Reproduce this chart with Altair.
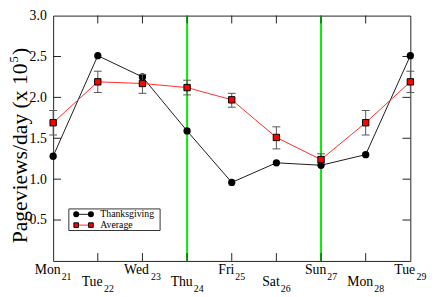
import altair as alt
import pandas as pd

# ---------------- data ----------------
days = ["Mon", "Tue", "Wed", "Thu", "Fri", "Sat", "Sun", "Mon", "Tue"]
dates = ["21", "22", "23", "24", "25", "26", "27", "28", "29"]
thanksgiving = [1.28, 2.51, 2.25, 1.59, 0.96, 1.20, 1.17, 1.30, 2.51]
average = [1.69, 2.19, 2.17, 2.12, 1.97, 1.51, 1.24, 1.69, 2.19]
avg_low = [1.54, 2.06, 2.05, 2.03, 1.88, 1.37, 1.20, 1.54, 2.06]
avg_high = [1.84, 2.32, 2.28, 2.21, 2.05, 1.64, 1.31, 1.84, 2.32]
y_ticks = [0.5, 1.0, 1.5, 2.0, 2.5, 3.0]
holiday_idx = [3, 6]  # Thu24, Sun27
legend_labels = ["Thanksgiving", "Average"]
title_main = "Pageviews/day (x 10"
title_sup = "5"
title_end = ")"

# ---------------- layout ----------------
W, H = 364, 250
FONT = "'Liberation Serif', 'Times New Roman', Times, serif"
FRAME = "#222222"
ERR = "#555555"
RED = "#ff2a2a"
GREEN = "#00ee00"

# Times/Liberation Serif advance widths (em)
CW = {"M": .889, "o": .5, "n": .5, "T": .611, "u": .5, "e": .444, "W": .944,
      "d": .5, "h": .5, "F": .556, "r": .333, "i": .278, "S": .556, "a": .444,
      "t": .278, "P": .556, "g": .5, "v": .5, "w": .722, "s": .389, "/": .278,
      "y": .5, " ": .25, "(": .333, ")": .333, "x": .5}


def text_w(s, size):
    return sum(CW.get(c, .5) for c in s) * size


n = len(days)
df = pd.DataFrame({"i": list(range(n)), "day": days, "date": dates,
                   "tg": thanksgiving, "avg": average,
                   "lo": avg_low, "hi": avg_high})

xs = alt.Scale(domain=[0, n - 1], nice=False, zero=False)
ys = alt.Scale(domain=[0, 3], nice=False, zero=False)
yaxis = alt.Axis(values=y_ticks, format=".1f", ticks=False, domain=False,
                 grid=False, labelFont=FONT, labelFontSize=14,
                 labelColor="black", labelPadding=7, labelOverlap=False,
                 title=None)
X = alt.X("i:Q", scale=xs, axis=None)


def Y(field):
    return alt.Y(f"{field}:Q", scale=ys, axis=yaxis)


base = alt.Chart(df)
layers = []

# holiday green lines
green = alt.Chart(pd.DataFrame({"i": holiday_idx})).mark_rule(
    color=GREEN, strokeWidth=2).encode(x=X, y=alt.value(0), y2=alt.value(H))
layers.append(green)

# inner ticks on all four sides
yt = pd.DataFrame({"v": y_ticks[:-1]})
layers.append(alt.Chart(yt).mark_rule(color=FRAME, strokeWidth=1).encode(
    y=Y("v"), x=alt.value(0), x2=alt.value(8)))
layers.append(alt.Chart(yt).mark_rule(color=FRAME, strokeWidth=1).encode(
    y=Y("v"), x=alt.value(W - 8), x2=alt.value(W)))
xt = pd.DataFrame({"i": list(range(1, n - 1))})
layers.append(alt.Chart(xt).mark_rule(color=FRAME, strokeWidth=1).encode(
    x=X, y=alt.value(0), y2=alt.value(8)))
layers.append(alt.Chart(xt).mark_rule(color=FRAME, strokeWidth=1).encode(
    x=X, y=alt.value(H - 8), y2=alt.value(H)))

# Thanksgiving series
layers.append(base.mark_line(color="#1a1a1a", strokeWidth=1).encode(x=X, y=Y("tg")))
layers.append(base.mark_point(shape="circle", filled=True, opacity=1,
                              color="black", size=55).encode(x=X, y=Y("tg")))

# error bars for average
layers.append(base.mark_rule(color=ERR, strokeWidth=1).encode(
    x=X, y=Y("lo"), y2="hi:Q"))
layers.append(base.mark_tick(orient="horizontal", size=8, thickness=1,
                             color=ERR, opacity=1).encode(x=X, y=Y("lo")))
layers.append(base.mark_tick(orient="horizontal", size=8, thickness=1,
                             color=ERR, opacity=1).encode(x=X, y=Y("hi")))

# Average series
layers.append(base.mark_line(color=RED, strokeWidth=1).encode(x=X, y=Y("avg")))
layers.append(base.mark_point(shape="square", filled=True, opacity=1,
                              fill="red", stroke="black", strokeWidth=1,
                              size=42).encode(x=X, y=Y("avg")))

# x tick labels with subscripts, alternating rows
NS, SS = 14, 10
for k in range(n):
    row = k % 2
    wn = text_w(days[k], NS)
    ws = text_w(dates[k], SS)
    left = -(wn + ws + 1) / 2
    one = pd.DataFrame({"i": [k], "day": [days[k]], "date": [dates[k]]})
    yb = H + 13 + row * 13
    layers.append(alt.Chart(one).mark_text(
        align="left", baseline="alphabetic", font=FONT, fontSize=NS,
        color="black", dx=left).encode(x=X, y=alt.value(yb), text="day:N"))
    layers.append(alt.Chart(one).mark_text(
        align="left", baseline="alphabetic", font=FONT, fontSize=SS,
        color="black", dx=left + wn + 1).encode(x=X, y=alt.value(yb + 6),
                                                text="date:N"))

# y title with superscript
TS = 22
t_start = 232
t_main_end = t_start - text_w(title_main, TS) - 1
sup_w = text_w(title_sup, 13)
tdf = pd.DataFrame({"a": [title_main], "b": [title_sup], "c": [title_end]})
layers.append(alt.Chart(tdf).mark_text(
    angle=270, align="left", baseline="alphabetic", font=FONT, fontSize=TS,
    color="black").encode(x=alt.value(-27), y=alt.value(t_start), text="a:N"))
layers.append(alt.Chart(tdf).mark_text(
    angle=270, align="left", baseline="alphabetic", font=FONT, fontSize=13,
    color="black").encode(x=alt.value(-36), y=alt.value(t_main_end), text="b:N"))
layers.append(alt.Chart(tdf).mark_text(
    angle=270, align="left", baseline="alphabetic", font=FONT, fontSize=TS,
    color="black").encode(x=alt.value(-27), y=alt.value(t_main_end - sup_w - 1),
                          text="c:N"))

# legend (drawn by hand)
lg = pd.DataFrame({"t": legend_labels})
bx0, bx1, by0, by1 = 16, 109, 197, 219
r1, r2 = 202.5, 213.5
c0, c1, tx = 23.5, 38.5, 48
dummy = pd.DataFrame({"z": [0]})
layers.append(alt.Chart(dummy).mark_rect(fill="white", stroke="#333333",
                                         strokeWidth=1).encode(
    x=alt.value(bx0), x2=alt.value(bx1), y=alt.value(by0), y2=alt.value(by1)))
layers.append(alt.Chart(dummy).mark_rule(color="#1a1a1a", strokeWidth=1).encode(
    x=alt.value(c0), x2=alt.value(c1), y=alt.value(r1)))
layers.append(alt.Chart(dummy).mark_rule(color=RED, strokeWidth=1).encode(
    x=alt.value(c0), x2=alt.value(c1), y=alt.value(r2)))
for cx in (c0, c1):
    layers.append(alt.Chart(dummy).mark_point(
        shape="circle", filled=True, opacity=1, color="black", size=38).encode(
        x=alt.value(cx), y=alt.value(r1)))
    layers.append(alt.Chart(dummy).mark_point(
        shape="square", filled=True, opacity=1, fill="red", stroke="black",
        strokeWidth=1, size=22).encode(x=alt.value(cx), y=alt.value(r2)))
layers.append(alt.Chart(lg.iloc[[0]]).mark_text(
    align="left", baseline="middle", font=FONT, fontSize=10, color="black").encode(
    x=alt.value(tx), y=alt.value(r1), text="t:N"))
layers.append(alt.Chart(lg.iloc[[1]]).mark_text(
    align="left", baseline="middle", font=FONT, fontSize=10, color="black").encode(
    x=alt.value(tx), y=alt.value(r2), text="t:N"))

chart = alt.layer(*layers).properties(
    width=W, height=H,
    autosize=alt.AutoSizeParams(type="none"),
    padding={"left": 46, "top": 5, "right": 18, "bottom": 34},
    background="white",
).configure_view(stroke=FRAME, strokeWidth=1)

chart.save("out.html", embed_options={"renderer": "svg", "actions": False})
